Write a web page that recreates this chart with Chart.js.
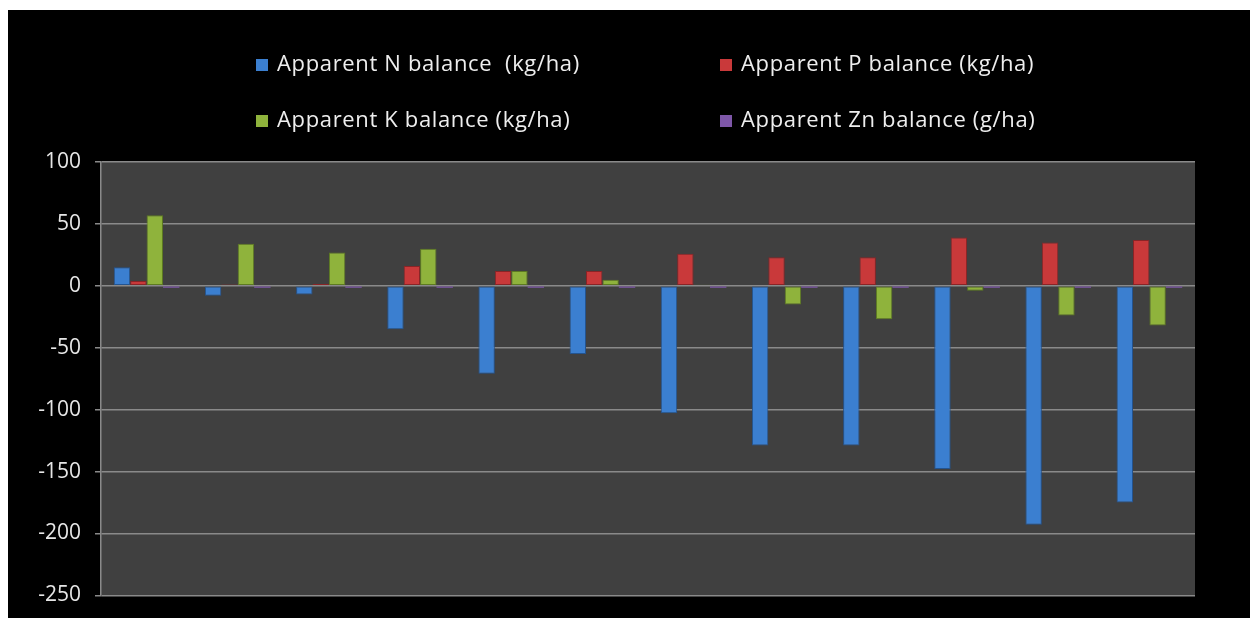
<!DOCTYPE html>
<html lang="en">
<head>
    <meta charset="UTF-8">
    <title>Apparent nutrient balance</title>
    <script src="https://cdn.jsdelivr.net/npm/chart.js"></script>
    <style>
        body { margin: 0; background: #fff; overflow: hidden; }
        .frame {
            position: absolute;
            left: 8px;
            top: 10px;
            width: 1242px;
            height: 608px;
            background: #000;
            overflow: hidden;
        }
        #balanceChart { position: absolute; left: 0; top: 0; }
        .legend {
            position: absolute;
            font-family: "Open Sans", sans-serif;
            font-size: 22px;
            letter-spacing: 0.65px;
            color: #eee;
            white-space: pre;
            line-height: 26px;
        }
        .legend span.box {
            display: inline-block;
            width: 12px;
            height: 12px;
            margin-right: 9px;
            vertical-align: 0px;
        }
    </style>
</head>
<body>
    <div class="frame">
        <canvas id="balanceChart" width="1242" height="612"></canvas>
        <div class="legend" style="left:248px; top:39px"><span class="box" style="background:#3b7fd0"></span>Apparent N balance  (kg/ha)</div>
        <div class="legend" style="left:712px; top:39px"><span class="box" style="background:#c9393a"></span>Apparent P balance (kg/ha)</div>
        <div class="legend" style="left:248px; top:95px"><span class="box" style="background:#8fb33c"></span>Apparent K balance (kg/ha)</div>
        <div class="legend" style="left:712px; top:95px"><span class="box" style="background:#7e57a8"></span>Apparent Zn balance (g/ha)</div>
    </div>
    <script>
        const categories = ['1', '2', '3', '4', '5', '6', '7', '8', '9', '10', '11', '12'];
        const nBalance = [15, -8, -7, -35, -71, -55, -103, -129, -129, -148, -193, -175];
        const pBalance = [4, 1, 1.5, 16, 12, 12, 26, 23, 23, 39, 35, 37];
        const kBalance = [57, 34, 27, 30, 12, 5, 0.8, -15, -27, -4, -24, -32];
        const znBalance = [-1, -1, -1, -1, -1, -1, -1, -1, -1, -1, -1, -1];
        const yTicks = [100, 50, 0, -50, -100, -150, -200, -250];

        const plotBackground = {
            id: 'plotBackground',
            beforeDraw(chart) {
                const { ctx, chartArea: a } = chart;
                ctx.save();
                ctx.fillStyle = '#404040';
                ctx.fillRect(a.left, a.top, a.right - a.left, a.bottom - a.top);
                ctx.restore();
            }
        };

        function series(label, data, color, border) {
            return {
                label: label,
                data: data,
                backgroundColor: color,
                borderColor: border,
                borderWidth: 1,
                borderSkipped: false
            };
        }

        const zn = series('Apparent Zn balance (g/ha)', znBalance, '#7e57a8', '#7e57a8');
        zn.borderWidth = 0;
        zn.minBarLength = 2;

        new Chart(document.getElementById('balanceChart'), {
            type: 'bar',
            data: {
                labels: categories,
                datasets: [
                    series('Apparent N balance  (kg/ha)', nBalance, '#3b7fd0', '#24548f'),
                    series('Apparent P balance (kg/ha)', pBalance, '#c9393a', '#8a2426'),
                    series('Apparent K balance (kg/ha)', kBalance, '#8fb33c', '#5d7a22'),
                    zn
                ]
            },
            options: {
                responsive: false,
                animation: false,
                layout: { padding: { left: 0, top: 152, right: 55, bottom: 20 } },
                datasets: { bar: { categoryPercentage: 0.72, barPercentage: 1 } },
                plugins: {
                    legend: { display: false },
                    tooltip: { enabled: false }
                },
                scales: {
                    x: {
                        ticks: { display: false },
                        grid: { display: false },
                        border: { display: false },
                        afterFit: (s) => { s.height = 0; }
                    },
                    y: {
                        min: -250,
                        max: 100,
                        afterBuildTicks: (s) => { s.ticks = yTicks.map(v => ({ value: v })); },
                        afterFit: (s) => { s.width = 93; },
                        ticks: {
                            color: '#e6e6e6',
                            padding: 14,
                            font: { family: 'Open Sans', size: 21 }
                        },
                        grid: {
                            color: '#8a8a8a',
                            lineWidth: 1.5,
                            tickLength: 6
                        },
                        border: { color: '#8a8a8a', width: 1.5 }
                    }
                }
            },
            plugins: [plotBackground]
        });
    </script>
</body>
</html>
